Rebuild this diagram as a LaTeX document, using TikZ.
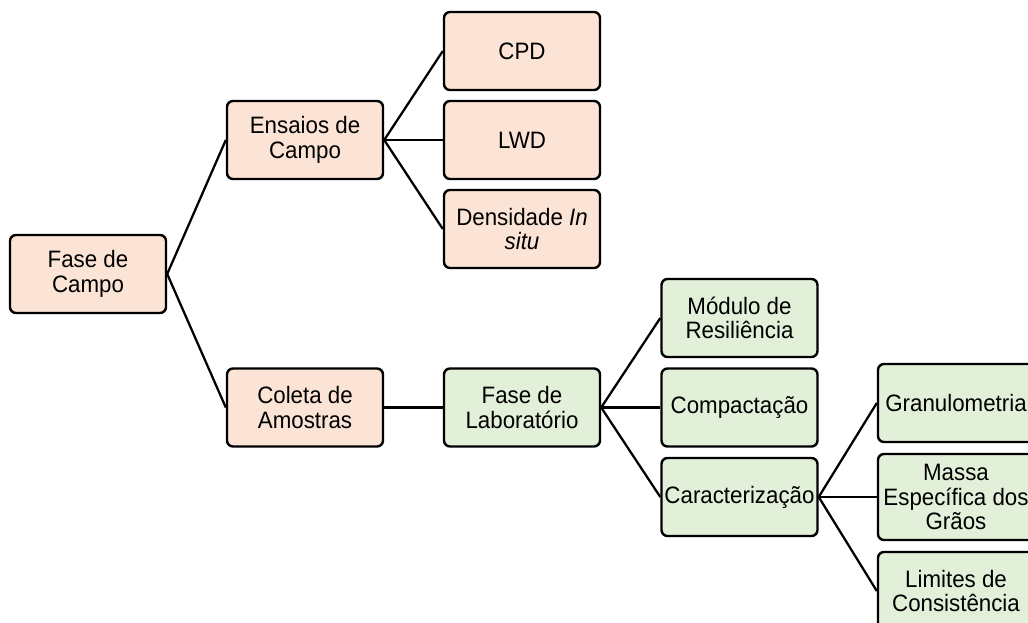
\documentclass[tikz,border=0pt]{standalone}
\usepackage{fontspec}
\setmainfont{Liberation Sans}[FakeStretch=0.94]
\definecolor{campocor}{HTML}{FBE4D5}
\definecolor{labcor}{HTML}{E2EFD9}
\tikzset{
  caixa/.style={draw, line width=1.8pt, rounded corners=4.5pt,
    minimum width=117pt, minimum height=58.5pt, inner sep=2pt,
    align=center, font=\fontsize{17.8}{18.5}\selectfont},
  caixacampo/.style={caixa, fill=campocor},
  caixalab/.style={caixa, fill=labcor},
  liga/.style={line width=1.7pt}
}
\begin{document}
\begin{tikzpicture}[x=0.75pt,y=-0.75pt]
\def\ca{88}
\def\cb{305}
\def\cc{522}
\def\cd{739.5}
\def\ce{956}
\useasboundingbox (0,0) rectangle (1028,623);
\clip (0,0) rectangle (1028,623);
% fase de campo
\node[caixacampo] (fase) at (\ca,274) {Fase de\\Campo};
\node[caixacampo] (ensaios) at (\cb,140) {Ensaios de\\Campo};
\node[caixacampo] (coleta) at (\cb,407.5) {Coleta de\\Amostras};
\node[caixacampo] (cpd) at (\cc,51) {CPD};
\node[caixacampo] (lwd) at (\cc,140) {LWD};
\node[caixacampo] (dens) at (\cc,229) {Densidade \textit{In}\\\textit{situ}};
% fase de laboratorio
\node[caixalab] (lab) at (\cc,407.5) {Fase de\\Laboratório};
\node[caixalab] (modulo) at (\cd,318) {Módulo de\\Resiliência};
\node[caixalab] (compact) at (\cd,407.5) {Compactação};
\node[caixalab] (caract) at (\cd,497) {Caracterização};
\node[caixalab] (gran) at (\ce,403) {Granulometria};
\node[caixalab, minimum height=64.5pt] (massa) at (\ce,497) {Massa\\Específica dos\\Grãos};
\node[caixalab] (limites) at (\ce,591) {Limites de\\Consistência};
% ligacoes
\draw[liga] (fase.east) -- (ensaios.west);
\draw[liga] (fase.east) -- (coleta.west);
\draw[liga] (ensaios.east) -- (cpd.west);
\draw[liga] (ensaios.east) -- (lwd.west);
\draw[liga] (ensaios.east) -- (dens.west);
\draw[liga] (coleta.east) -- (lab.west);
\draw[liga] (lab.east) -- (modulo.west);
\draw[liga] (lab.east) -- (compact.west);
\draw[liga] (lab.east) -- (caract.west);
\draw[liga] (caract.east) -- (gran.west);
\draw[liga] (caract.east) -- (massa.west);
\draw[liga] (caract.east) -- (limites.west);
\end{tikzpicture}
\end{document}
